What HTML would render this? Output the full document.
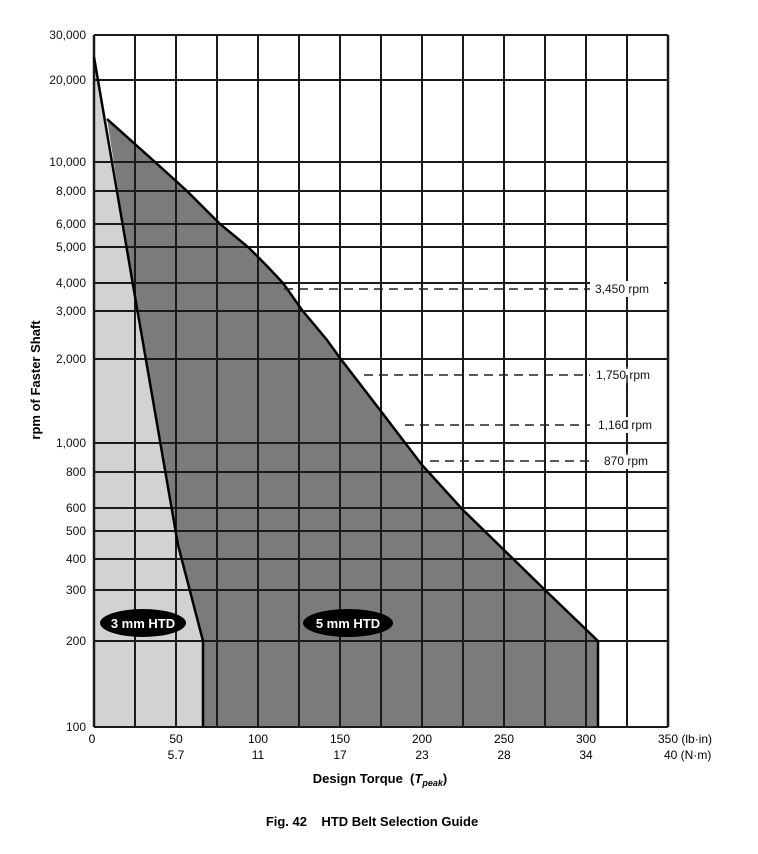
<!DOCTYPE html>
<html><head><meta charset="utf-8"><style>
body{margin:0;background:#fff;}
svg{display:block;font-family:"Liberation Sans",Arial,sans-serif;}
</style></head><body>
<svg id="s" width="758" height="854" viewBox="0 0 758 854" xmlns="http://www.w3.org/2000/svg"></svg>
<script>
(function(){
const T=[[100,727],[200,641],[300,590],[400,559],[500,531],[600,508],[800,472],[1000,443],[2000,359],[3000,311],[4000,283],[5000,247],[6000,224],[8000,191],[10000,162],[20000,80],[30000,35]];
const X=u=>94+u*574/350;
let h='';
const edge='107,119 155,162 187,191 220,224 248,247 266,265 283,283 302,310 327,340 340,358 380,410 422,465 463,510 545,590 598,641';
h+='<polygon points="94,57 133,285 178,545 203,641 203,727 94,727" fill="#d2d2d2"/>';
h+=`<polygon points="${edge} 598,727 203,727 203,641 178,545 133,285" fill="#7b7b7b"/>`;
for(const[v,y] of T){h+=`<line x1="94" y1="${y}" x2="668" y2="${y}" stroke="#1a1a1a" stroke-width="2"/>`;}
for(let u=0;u<=350;u+=25){const x=X(u);h+=`<line x1="${x}" y1="35" x2="${x}" y2="727" stroke="#1a1a1a" stroke-width="${u==0||u==350?2.5:2}"/>`;}
h+='<polyline points="94,57 133,285 178,545 203,641 203,727" fill="none" stroke="#000" stroke-width="2.5"/>';
h+=`<polyline points="${edge} 598,727" fill="none" stroke="#000" stroke-width="2.5"/>`;
const D=[[289,284,'3,450 rpm',595],[375,364,'1,750 rpm',596],[425,405,'1,160 rpm',598],[461,430,'870 rpm',604]];
for(const[y,x0,l,lx] of D){
 h+=`<line x1="${x0}" y1="${y}" x2="592" y2="${y}" stroke="#222" stroke-width="1.5" stroke-dasharray="9,6"/>`;
 h+=`<rect x="590" y="${y-8}" width="74" height="16" fill="#fff"/>`;
 h+=`<text x="${lx}" y="${y+4}" font-size="12" fill="#111">${l}</text>`;
}
h+='<line x1="627" y1="300" x2="627" y2="455" stroke="#222" stroke-width="1.5" stroke-dasharray="9,6"/>';
const L=[[30000,'30,000'],[20000,'20,000'],[10000,'10,000'],[8000,'8,000'],[6000,'6,000'],[5000,'5,000'],[4000,'4,000'],[3000,'3,000'],[2000,'2,000'],[1000,'1,000'],[800,'800'],[600,'600'],[500,'500'],[400,'400'],[300,'300'],[200,'200'],[100,'100']];
for(const[v,l] of L){const y=T.find(t=>t[0]==v)[1];h+=`<text x="86" y="${y+4}" font-size="12" text-anchor="end" fill="#111">${l}</text>`;}
h+=`<text x="92" y="743" font-size="12" text-anchor="middle">0</text>`;
const XL=[[50,'5.7'],[100,'11'],[150,'17'],[200,'23'],[250,'28'],[300,'34']];
for(const[u,n] of XL){const x=X(u);h+=`<text x="${x}" y="743" font-size="12" text-anchor="middle">${u}</text><text x="${x}" y="759" font-size="12" text-anchor="middle">${n}</text>`;}
h+=`<text x="658" y="743" font-size="12">350 (lb·in)</text><text x="664" y="759" font-size="12">40 (N·m)</text>`;
h+='<ellipse cx="143" cy="623" rx="43" ry="14" fill="#000"/><text x="143" y="628" font-size="13" font-weight="bold" fill="#fff" text-anchor="middle">3 mm HTD</text>';
h+='<ellipse cx="348" cy="623" rx="45" ry="14" fill="#000"/><text x="348" y="628" font-size="13" font-weight="bold" fill="#fff" text-anchor="middle">5 mm HTD</text>';
h+='<text x="380" y="783" font-size="13" font-weight="bold" text-anchor="middle">Design Torque&#160;&#160;(<tspan font-style="italic">T</tspan><tspan font-style="italic" font-size="9" dy="3">peak</tspan><tspan dy="-3">)</tspan></text>';
h+='<text x="372" y="826" font-size="13" font-weight="bold" text-anchor="middle">Fig. 42&#160;&#160;&#160;&#160;HTD Belt Selection Guide</text>';
h+='<text transform="translate(40,380) rotate(-90)" font-size="13" font-weight="bold" text-anchor="middle">rpm of Faster Shaft</text>';
document.getElementById('s').innerHTML=h;
})();
</script>
</body></html>
